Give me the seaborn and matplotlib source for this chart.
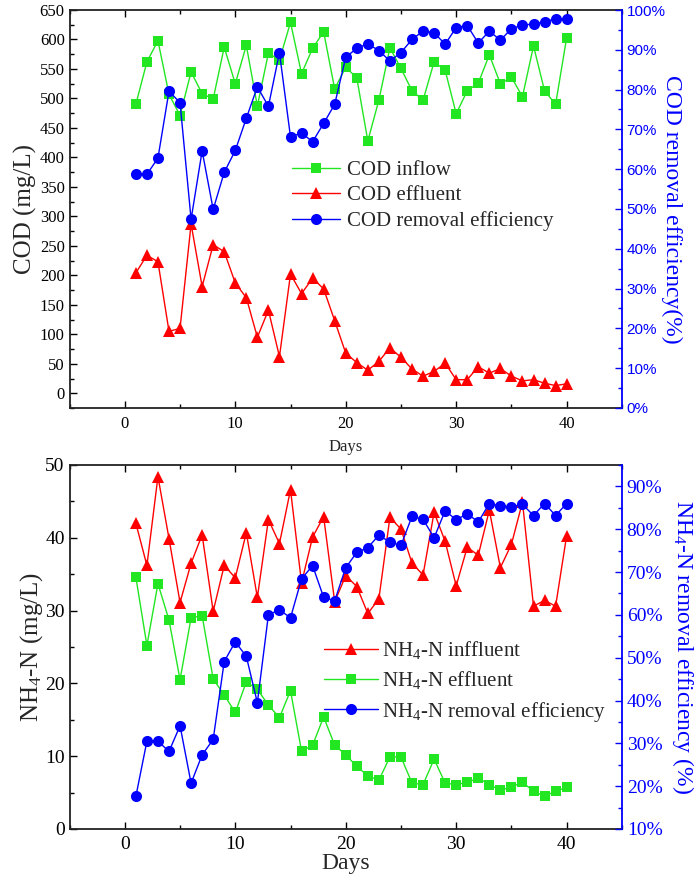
import matplotlib
matplotlib.use("Agg")
import matplotlib.pyplot as plt
import seaborn as sns
from matplotlib.ticker import MultipleLocator, FuncFormatter
from matplotlib.lines import Line2D

sns.set_theme(style="ticks")
plt.rcParams['font.family'] = ['Liberation Serif', 'DejaVu Serif']
plt.rcParams['mathtext.fontset'] = 'custom'
plt.rcParams['mathtext.rm'] = 'Liberation Serif'
plt.rcParams['mathtext.it'] = 'Liberation Serif:italic'

GREEN = "#22e622"
RED = "#ff0000"
BLUE = "#0000ff"

days = list(range(1, 41))

cod_inflow = [490, 562, 598, 507, 471, 545, 508, 499, 587, 525,
              590, 487, 577, 565, 629, 542, 585, 613, 516, 553,
              535, 428, 497, 586, 551, 513, 497, 562, 548, 474,
              513, 526, 574, 525, 536, 503, 589, 513, 490, 603]
cod_effluent = [204, 234, 223, 105, 110, 287, 181, 252, 240, 187,
                162, 95, 141, 62, 202, 169, 195, 177, 123, 68,
                52, 39, 54, 77, 61, 41, 29, 37, 51, 23,
                23, 45, 34, 42, 29, 21, 23, 17, 13, 16]
cod_removal = [58.7, 58.7, 62.8, 79.6, 76.7, 47.4, 64.6, 49.9, 59.2, 64.7,
               72.8, 80.7, 75.8, 89.3, 68.1, 69.1, 66.9, 71.5, 76.3, 88.1,
               90.4, 91.5, 89.8, 87.2, 89.3, 92.6, 94.7, 94.3, 91.4, 95.6,
               96.1, 91.7, 94.7, 92.4, 95.3, 96.2, 96.5, 97.0, 97.8, 97.7]

nh4_influent = [42.0, 36.2, 48.4, 39.9, 31.1, 36.5, 40.4, 29.9, 36.2, 34.5,
                40.7, 31.8, 42.5, 39.2, 46.6, 33.8, 40.1, 42.9, 31.2, 34.8,
                33.3, 29.6, 31.6, 42.8, 41.2, 36.5, 34.9, 43.5, 39.5, 33.4,
                38.7, 37.6, 43.8, 35.9, 39.1, 44.9, 30.6, 31.4, 30.6, 40.3]
nh4_effluent = [34.6, 25.2, 33.7, 28.7, 20.5, 29.0, 29.3, 20.6, 18.4, 16.0,
                20.2, 19.2, 17.0, 15.3, 19.0, 10.7, 11.5, 15.4, 11.5, 10.2,
                8.6, 7.3, 6.7, 9.9, 9.9, 6.3, 6.1, 9.6, 6.3, 6.1,
                6.4, 7.0, 6.1, 5.3, 5.8, 6.4, 5.2, 4.5, 5.2, 5.7]
nh4_removal = [17.6, 30.5, 30.5, 28.1, 34.1, 20.7, 27.3, 30.9, 49.1, 53.7,
               50.3, 39.5, 60.0, 61.2, 59.3, 68.4, 71.5, 64.1, 63.3, 71.0,
               74.6, 75.7, 78.6, 77.0, 76.2, 83.0, 82.3, 78.0, 84.3, 82.2,
               83.6, 81.7, 86.0, 85.4, 85.2, 85.8, 83.2, 86.0, 83.2, 86.0]

STYLES = {
    "s": dict(marker="s", markersize=7),
    "^": dict(marker="^", markersize=8.5),
    "o": dict(marker="o", markersize=8),
}


def draw_series(ax, values, color, marker):
    """Draw one line-with-markers series through seaborn."""
    sns.lineplot(x=days, y=values, ax=ax, color=color, linewidth=1,
                 markeredgecolor=color, markeredgewidth=0, legend=False,
                 **STYLES[marker])


def handle(color, marker, label):
    return Line2D([], [], color=color, linewidth=1, markeredgewidth=0,
                  label=label, **STYLES[marker])


def style_axes(ax, ax2, ymajor, yminor, rmajor, rminor, tick_fs, xpad):
    ax.set_xlim(-5, 45)
    ax.xaxis.set_major_locator(MultipleLocator(10))
    ax.xaxis.set_minor_locator(MultipleLocator(5))
    ax.yaxis.set_major_locator(MultipleLocator(ymajor))
    ax.yaxis.set_minor_locator(MultipleLocator(yminor))
    ax.tick_params(which="both", direction="in", top=True, right=False,
                   width=1, colors="black", labelsize=tick_fs)
    ax.tick_params(which="major", length=5)
    ax.tick_params(which="minor", length=3)
    ax.tick_params(axis="x", pad=xpad)
    for side in ["left", "bottom", "top"]:
        ax.spines[side].set_color("#222222")
        ax.spines[side].set_linewidth(1.3)
    ax.spines["right"].set_visible(False)

    ax2.yaxis.set_major_locator(MultipleLocator(rmajor))
    ax2.yaxis.set_minor_locator(MultipleLocator(rminor))
    ax2.yaxis.set_major_formatter(FuncFormatter(lambda v, p: f"{v:.0f}%"))
    ax2.tick_params(which="both", direction="in", color=BLUE, width=1,
                    labelcolor=BLUE)
    ax2.tick_params(which="major", length=5)
    ax2.tick_params(which="minor", length=3)
    for side in ["left", "bottom", "top"]:
        ax2.spines[side].set_visible(False)
    ax2.spines["right"].set_color(BLUE)
    ax2.spines["right"].set_linewidth(1.3)
    ax2.set_ylabel("")
    ax.set_ylabel("")
    ax2.set_xlabel("")


fig = plt.figure(figsize=(7, 8.85), dpi=100)

# Top panel: COD
ax1 = fig.add_axes([0.0994, 0.539, 0.789, 0.4497])
ax1r = ax1.twinx()
draw_series(ax1, cod_inflow, GREEN, "s")
draw_series(ax1, cod_effluent, RED, "^")
draw_series(ax1r, cod_removal, BLUE, "o")
ax1.set_ylim(-25, 650)
ax1r.set_ylim(0, 100)
style_axes(ax1, ax1r, 50, 25, 10, 5, 12, 6)
for lab in ax1r.get_yticklabels():
    lab.set_family(["Liberation Sans", "DejaVu Sans"])
    lab.set_fontsize(11)
ax1.set_xlabel("Days", fontsize=12, labelpad=5)
ax1.set_ylabel("COD (mg/L)", fontsize=18, labelpad=2)
ax1r.set_ylabel("COD removal efficiency(%)", fontsize=17, color=BLUE,
                rotation=270, labelpad=12)
ax1r.legend(handles=[handle(GREEN, "s", "COD inflow"),
                     handle(RED, "^", "COD effluent"),
                     handle(BLUE, "o", "COD removal efficiency")],
            loc="upper left", bbox_to_anchor=(0.402, 0.622), frameon=False,
            fontsize=15, handlelength=2.3, handletextpad=0.35,
            labelspacing=0.28, borderpad=0, borderaxespad=0, numpoints=1)

# Bottom panel: NH4-N
ax2 = fig.add_axes([0.0994, 0.0633, 0.789, 0.4113])
ax2r = ax2.twinx()
draw_series(ax2, nh4_influent, RED, "^")
draw_series(ax2, nh4_effluent, GREEN, "s")
draw_series(ax2r, nh4_removal, BLUE, "o")
ax2.set_ylim(0, 50)
ax2r.set_ylim(10, 95)
style_axes(ax2, ax2r, 10, 5, 10, 5, 14, 5)
for lab in ax2r.get_yticklabels():
    lab.set_fontsize(14)
ax2.set_xlabel("Days", fontsize=17, labelpad=0)
ax2.set_ylabel("NH$_4$-N (mg/L)", fontsize=18, labelpad=0)
ax2r.set_ylabel("NH$_4$-N removal efficiency (%)", fontsize=17, color=BLUE,
                rotation=270, labelpad=24)
ax2r.legend(handles=[handle(RED, "^", "NH$_4$-N inffluent"),
                     handle(GREEN, "s", "NH$_4$-N effluent"),
                     handle(BLUE, "o", "NH$_4$-N removal efficiency")],
            loc="upper left", bbox_to_anchor=(0.46, 0.522), frameon=False,
            fontsize=15, handlelength=2.6, handletextpad=0.2,
            labelspacing=0.4, borderpad=0, borderaxespad=0, numpoints=1)

fig.savefig("out.png", dpi=100)
